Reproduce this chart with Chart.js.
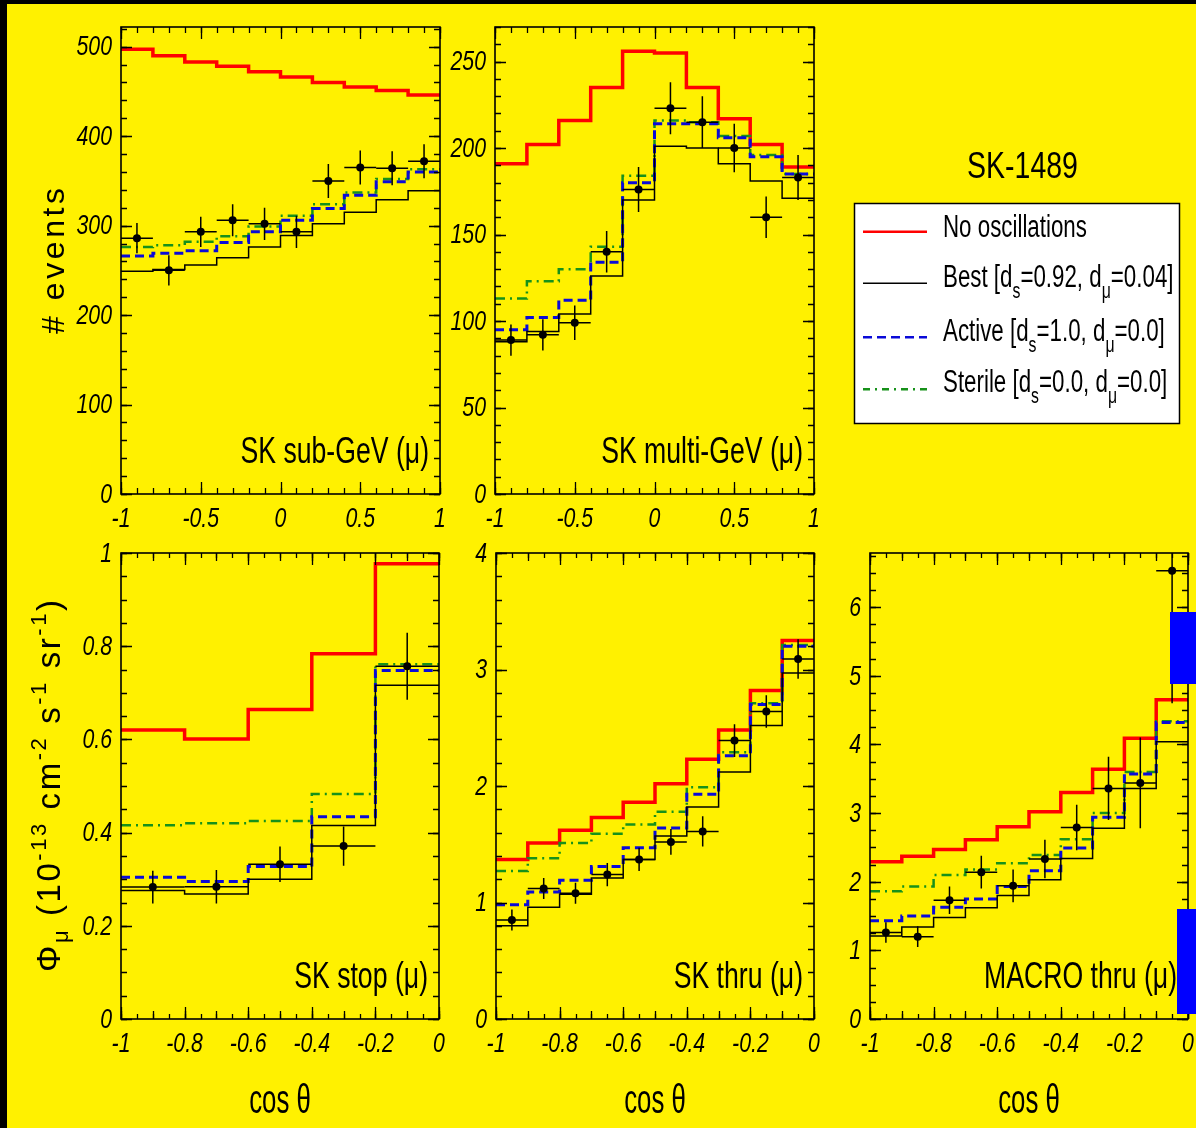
<!DOCTYPE html>
<html>
<head>
<meta charset="utf-8">
<script src="https://cdn.jsdelivr.net/npm/chart.js@4.4.1/dist/chart.umd.min.js"></script>
<style>
  html, body { margin: 0; padding: 0; background: #000; }
  #page { position: relative; width: 1196px; height: 1128px; background: #000; overflow: hidden; }
  #paper { position: absolute; left: 7px; top: 4px; right: 0; bottom: 0; background: #fff100; }
  canvas { position: absolute; left: 0; top: 0; }
</style>
</head>
<body>
<div id="page">
  <div id="paper"></div>
  <canvas id="subGeV" width="1196" height="1128"></canvas>
  <canvas id="multiGeV" width="1196" height="1128"></canvas>
  <canvas id="stop" width="1196" height="1128"></canvas>
  <canvas id="thru" width="1196" height="1128"></canvas>
  <canvas id="macro" width="1196" height="1128"></canvas>
</div>
<script>
const RED = '#ff0000', BLUE = '#0a0ad8', GREEN = '#17911a', BLACK = '#000000';
const SANS = '"Liberation Sans", Arial, Helvetica, sans-serif';

// bin centres in cos(theta)
const cosBins20 = [-0.9, -0.7, -0.5, -0.3, -0.1, 0.1, 0.3, 0.5, 0.7, 0.9];
const cosBins5 = [-0.9, -0.7, -0.5, -0.3, -0.1];
const cosBins10 = [-0.95, -0.85, -0.75, -0.65, -0.55, -0.45, -0.35, -0.25, -0.15, -0.05];

// tick labels
const xTicksFull = [-1, -0.5, 0, 0.5, 1];
const xTicksUp = [-1, -0.8, -0.6, -0.4, -0.2, 0];
const subYTicks = [0, 100, 200, 300, 400, 500];
const mulYTicks = [0, 50, 100, 150, 200, 250];
const stopYTicks = [0, 0.2, 0.4, 0.6, 0.8, 1];
const thruYTicks = [0, 1, 2, 3, 4];
const macYTicks = [0, 1, 2, 3, 4, 5, 6];

// SK sub-GeV (mu)
const subNoOsc = [497, 490, 483, 478, 472, 466, 460, 455, 451, 446];
const subBest = [249, 251, 256, 264, 276, 289, 302, 315, 329, 339];
const subActive = [266, 269, 272, 281, 293, 306, 319, 334, 349, 360];
const subSterile = [276, 278, 282, 288, 299, 311, 324, 337, 352, 363];
const subData = [286, 250, 293, 306, 302, 293, 350, 365, 364, 372];
const subErr = [17, 17, 17, 18, 18, 18, 19, 19, 19, 19];

// SK multi-GeV (mu)
const mulNoOsc = [191, 202, 216, 235, 256, 255, 235, 217, 202, 189];
const mulBest = [88, 94, 104, 126, 170, 201, 200, 191, 181, 171];
const mulActive = [95, 102, 112, 134, 180, 214, 214, 206, 195, 185];
const mulSterile = [113, 123, 130, 143, 184, 216, 215, 207, 196, 185];
const mulData = [89, 92, 99, 140, 176, 223, 215, 200, 160, 183];
const mulErr = [9, 9, 10, 12, 13, 15, 15, 14, 12, 13];

// SK stop (mu)
const stopNoOsc = [0.620, 0.601, 0.664, 0.784, 0.977];
const stopBest = [0.276, 0.268, 0.300, 0.415, 0.716];
const stopActive = [0.304, 0.295, 0.327, 0.434, 0.748];
const stopSterile = [0.416, 0.420, 0.425, 0.483, 0.761];
const stopData = [0.283, 0.284, 0.332, 0.371, 0.757];
const stopErr = [0.035, 0.036, 0.038, 0.042, 0.072];

// SK thru (mu)
const thruNoOsc = [1.37, 1.51, 1.62, 1.73, 1.86, 2.02, 2.23, 2.48, 2.82, 3.25];
const thruBest = [0.80, 0.96, 1.07, 1.21, 1.37, 1.57, 1.82, 2.12, 2.52, 2.97];
const thruActive = [0.98, 1.09, 1.19, 1.31, 1.47, 1.64, 1.93, 2.26, 2.70, 3.20];
const thruSterile = [1.27, 1.38, 1.51, 1.59, 1.67, 1.78, 1.99, 2.29, 2.71, 3.21];
const thruData = [0.85, 1.12, 1.08, 1.24, 1.37, 1.52, 1.61, 2.39, 2.64, 3.09];
const thruErr = [0.09, 0.09, 0.09, 0.10, 0.10, 0.11, 0.13, 0.14, 0.14, 0.17];

// MACRO thru (mu)
const macNoOsc = [2.29, 2.37, 2.47, 2.61, 2.80, 3.02, 3.30, 3.64, 4.09, 4.65];
const macBest = [1.21, 1.34, 1.48, 1.62, 1.80, 2.03, 2.34, 2.78, 3.36, 4.04];
const macActive = [1.43, 1.50, 1.63, 1.75, 1.93, 2.16, 2.49, 2.94, 3.57, 4.32];
const macSterile = [1.86, 1.93, 2.10, 2.18, 2.27, 2.39, 2.62, 3.00, 3.60, 4.34];
const macData = [1.26, 1.20, 1.73, 2.14, 1.94, 2.33, 2.79, 3.36, 3.44, 6.53];
const macErr = [0.15, 0.15, 0.20, 0.24, 0.24, 0.28, 0.33, 0.46, 0.66, 1.93];

const STYLES = {
  noOsc:   { color: RED, width: 3.5, dash: [] },
  best:    { color: BLACK, width: 1.5, dash: [] },
  active:  { color: BLUE, width: 3, dash: [9, 5] },
  sterile: { color: GREEN, width: 2.5, dash: [10, 5, 2, 5] }
};

const PANELS = [
  { id: 'subGeV', area: [121, 27, 440, 494], xr: [-1, 1], yr: [0, 522], centers: cosBins20, half: 0.1,
    noOsc: subNoOsc, best: subBest, active: subActive, sterile: subSterile, data: subData, err: subErr,
    xTicks: xTicksFull, xSub: [[0.1, 6]], yTicks: subYTicks, ySub: 20, label: 'SK sub-GeV (\u03bc)' },
  { id: 'multiGeV', area: [495, 27, 814, 494], xr: [-1, 1], yr: [0, 270], centers: cosBins20, half: 0.1,
    noOsc: mulNoOsc, best: mulBest, active: mulActive, sterile: mulSterile, data: mulData, err: mulErr,
    xTicks: xTicksFull, xSub: [[0.1, 6]], yTicks: mulYTicks, ySub: 10, label: 'SK multi-GeV (\u03bc)' },
  { id: 'stop', area: [121, 553, 439, 1019], xr: [-1, 0], yr: [0, 1], centers: cosBins5, half: 0.1,
    noOsc: stopNoOsc, best: stopBest, active: stopActive, sterile: stopSterile, data: stopData, err: stopErr,
    xTicks: xTicksUp, xSub: [[0.1, 8], [0.05, 5]], yTicks: stopYTicks, ySub: 0.05, label: 'SK stop (\u03bc)' },
  { id: 'thru', area: [496, 553, 814, 1019], xr: [-1, 0], yr: [0, 4], centers: cosBins10, half: 0.05,
    noOsc: thruNoOsc, best: thruBest, active: thruActive, sterile: thruSterile, data: thruData, err: thruErr,
    xTicks: xTicksUp, xSub: [[0.1, 8], [0.05, 5]], yTicks: thruYTicks, ySub: 0.2, label: 'SK thru (\u03bc)' },
  { id: 'macro', area: [870, 553, 1188, 1019], xr: [-1, 0], yr: [0, 6.79], centers: cosBins10, half: 0.05,
    noOsc: macNoOsc, best: macBest, active: macActive, sterile: macSterile, data: macData, err: macErr,
    xTicks: xTicksUp, xSub: [[0.1, 8], [0.05, 5]], yTicks: macYTicks, ySub: 0.25, label: 'MACRO thru (\u03bc)' }
];

// draws text char by char, condensed by sx, optionally stretched to a given length
function drawRich(ctx, segs, x, y, o) {
  const sx = o.sx || 1, style = o.style || '';
  const chars = [];
  segs.forEach(([t, size, dy]) => { for (const ch of t) chars.push({ ch, size, dy }); });
  chars.forEach(c => { ctx.font = `${style} ${c.size}px ${SANS}`; c.w = ctx.measureText(c.ch).width * sx; });
  const natural = chars.reduce((s, c) => s + c.w, 0);
  const gap = o.fit ? (o.fit - natural) / (chars.length - 1) : 0;
  const total = natural + gap * (chars.length - 1);
  let cx = o.align === 'right' ? x - total : o.align === 'center' ? x - total / 2 : x;
  ctx.textAlign = 'left';
  ctx.textBaseline = o.baseline || 'alphabetic';
  ctx.fillStyle = o.color || '#000';
  chars.forEach(c => {
    ctx.save();
    ctx.font = `${style} ${c.size}px ${SANS}`;
    ctx.translate(cx, y + c.dy);
    ctx.scale(sx, 1);
    ctx.fillText(c.ch, 0, 0);
    ctx.restore();
    cx += c.w + gap;
  });
}

function steps(min, max, step) {
  const out = [];
  const n = Math.floor((max - min) / step + 1e-6);
  for (let k = 0; k <= n; k++) out.push(min + k * step);
  return out;
}

function histPoints(centers, half, values) {
  const pts = [];
  centers.forEach((c, i) => { pts.push({ x: c - half, y: values[i] }); pts.push({ x: c + half, y: values[i] }); });
  return pts;
}

function histDataset(p, key) {
  const s = STYLES[key];
  return {
    type: 'line', data: histPoints(p.centers, p.half, p[key]),
    borderColor: s.color, borderWidth: s.width, borderDash: s.dash,
    pointRadius: 0, fill: false, tension: 0, borderCapStyle: 'butt'
  };
}

function makeDeco(p) {
  return {
    id: 'deco_' + p.id,
    afterDatasetsDraw(chart) {
      const { ctx, chartArea: a, scales: { x, y } } = chart;
      // error bars
      ctx.save();
      ctx.beginPath();
      ctx.rect(a.left, a.top, a.right - a.left, a.bottom - a.top);
      ctx.clip();
      ctx.strokeStyle = BLACK;
      ctx.lineWidth = 1.5;
      p.centers.forEach((c, i) => {
        const px = x.getPixelForValue(c), py = y.getPixelForValue(p.data[i]);
        ctx.beginPath();
        ctx.moveTo(x.getPixelForValue(c - p.half), py);
        ctx.lineTo(x.getPixelForValue(c + p.half), py);
        ctx.moveTo(px, y.getPixelForValue(p.data[i] - p.err[i]));
        ctx.lineTo(px, y.getPixelForValue(p.data[i] + p.err[i]));
        ctx.stroke();
      });
      ctx.restore();
    },
    afterDraw(chart) {
      const { ctx, chartArea: a, scales: { x, y } } = chart;
      ctx.save();
      ctx.strokeStyle = BLACK;
      ctx.lineWidth = 1.3;
      const xLevels = [[p.xTicks, 12]].concat(p.xSub.map(([st, len]) => [steps(p.xr[0], p.xr[1], st), len]));
      xLevels.forEach(([vals, len]) => vals.forEach(v => {
        const px = Math.round(x.getPixelForValue(v)) + 0.5;
        ctx.beginPath();
        ctx.moveTo(px, a.bottom); ctx.lineTo(px, a.bottom - len);
        ctx.moveTo(px, a.top); ctx.lineTo(px, a.top + len);
        ctx.stroke();
      }));
      const yLevels = [[p.yTicks, 11], [steps(p.yr[0], p.yr[1], p.ySub), 6]];
      yLevels.forEach(([vals, len]) => vals.forEach(v => {
        const py = Math.round(y.getPixelForValue(v)) + 0.5;
        ctx.beginPath();
        ctx.moveTo(a.left, py); ctx.lineTo(a.left + len, py);
        ctx.moveTo(a.right, py); ctx.lineTo(a.right - len, py);
        ctx.stroke();
      }));
      ctx.lineWidth = 1.6;
      ctx.strokeRect(a.left, a.top, a.right - a.left, a.bottom - a.top);
      // tick labels
      p.yTicks.forEach(v => drawRich(ctx, [[String(v), 28, 0]], a.left - 9, y.getPixelForValue(v) + 1,
        { sx: 0.76, style: 'italic', align: 'right', baseline: 'middle' }));
      p.xTicks.forEach(v => drawRich(ctx, [[String(v), 28, 0]], x.getPixelForValue(v), a.bottom + 25,
        { sx: 0.76, style: 'italic', align: 'center', baseline: 'middle' }));
      // panel caption
      drawRich(ctx, [[p.label, 37, 0]], a.right - 11, a.bottom - 31, { sx: 0.72, align: 'right' });
      if (p.id !== 'subGeV' && p.id !== 'multiGeV') {
        drawRich(ctx, [['cos \u03b8', 40, 0]], (a.left + a.right) / 2, 1113, { sx: 0.645, align: 'center' });
      }
      ctx.restore();
    }
  };
}

// page-level texts: legend, title, axis titles
const pageText = {
  id: 'pageText',
  afterDraw(chart) {
    const ctx = chart.ctx;
    ctx.save();
    drawRich(ctx, [['SK-1489', 37, 0]], 1022.5, 178, { sx: 0.77, align: 'center' });
    // legend box
    ctx.fillStyle = '#ffffff';
    ctx.fillRect(854, 203, 325, 220);
    ctx.strokeStyle = BLACK;
    ctx.lineWidth = 1.5;
    ctx.strokeRect(854.5, 203.5, 325, 220);
    const rows = [
      { key: 'noOsc', ly: 231.7, by: 237.3, segs: [['No oscillations', 31, 0]] },
      { key: 'best', ly: 283.3, by: 286.7, segs: [['Best [d', 31, 0], ['s', 22, 11], ['=0.92, d', 31, 0], ['\u03bc', 22, 11], ['=0.04]', 31, 0]] },
      { key: 'active', ly: 337.3, by: 340.7, segs: [['Active [d', 31, 0], ['s', 22, 11], ['=1.0, d', 31, 0], ['\u03bc', 22, 11], ['=0.0]', 31, 0]] },
      { key: 'sterile', ly: 389.3, by: 391.7, segs: [['Sterile [d', 31, 0], ['s', 22, 11], ['=0.0, d', 31, 0], ['\u03bc', 22, 11], ['=0.0]', 31, 0]] }
    ];
    rows.forEach(r => {
      const s = STYLES[r.key];
      ctx.save();
      ctx.strokeStyle = s.color;
      ctx.lineWidth = Math.min(s.width, 2.5);
      ctx.setLineDash(r.key === 'sterile' ? [7, 5, 2, 5] : s.dash);
      ctx.beginPath();
      ctx.moveTo(863, r.ly); ctx.lineTo(927, r.ly);
      ctx.stroke();
      ctx.restore();
      drawRich(ctx, r.segs, 943, r.by, { sx: 0.72 });
    });
    // y axis titles
    ctx.save();
    ctx.translate(64, 261);
    ctx.rotate(-Math.PI / 2);
    drawRich(ctx, [['# events', 32, 0]], 0, 0, { align: 'center', fit: 146 });
    ctx.restore();
    ctx.save();
    ctx.translate(60, 786);
    ctx.rotate(-Math.PI / 2);
    drawRich(ctx, [['\u03a6', 33, 0], ['\u03bc', 22, 8], [' (10', 33, 0], ['-13', 22, -14], [' cm', 33, 0], ['-2', 22, -14],
      [' s', 33, 0], ['-1', 22, -14], [' sr', 33, 0], ['-1', 22, -14], [')', 33, 0]], 0, 0, { align: 'center', fit: 372 });
    ctx.restore();
    // blue overlays at the right edge of the picture
    ctx.fillStyle = '#0000ff';
    ctx.fillRect(1170, 612, 26, 72);
    ctx.fillRect(1177, 909, 19, 105);
    ctx.restore();
  }
};

PANELS.forEach((p, idx) => {
  const [l, t, r, b] = p.area;
  const plugins = [makeDeco(p)];
  if (idx === PANELS.length - 1) plugins.push(pageText);
  new Chart(document.getElementById(p.id), {
    type: 'scatter',
    data: {
      datasets: [
        { data: p.centers.map((c, i) => ({ x: c, y: p.data[i] })), backgroundColor: BLACK, borderColor: BLACK,
          pointRadius: 4, pointBorderWidth: 0 },
        histDataset(p, 'best'),
        histDataset(p, 'active'),
        histDataset(p, 'sterile'),
        histDataset(p, 'noOsc')
      ]
    },
    options: {
      responsive: false,
      animation: false,
      devicePixelRatio: 1,
      events: [],
      layout: { padding: { left: l, top: t, right: 1196 - r, bottom: 1128 - b } },
      plugins: { legend: { display: false }, tooltip: { enabled: false }, title: { display: false } },
      scales: {
        x: { type: 'linear', min: p.xr[0], max: p.xr[1], display: false },
        y: { type: 'linear', min: p.yr[0], max: p.yr[1], display: false }
      }
    },
    plugins: plugins
  });
});
</script>
</body>
</html>
